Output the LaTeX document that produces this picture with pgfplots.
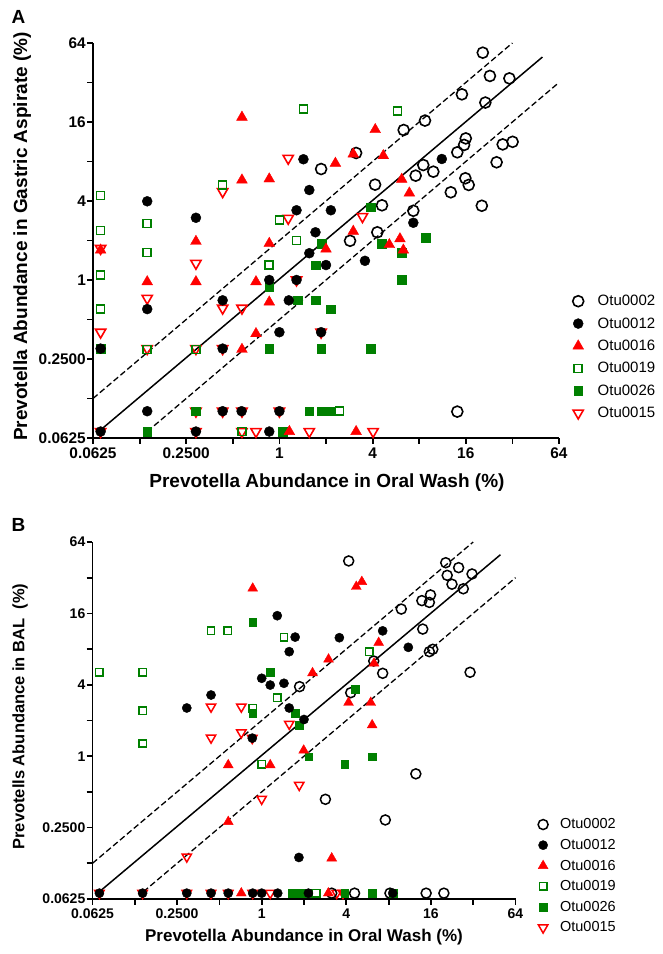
\documentclass[border=0pt]{standalone}
\usepackage{pgfplots}
\pgfplotsset{compat=1.18}
\usepackage{fontspec}
\setmainfont{Liberation Sans}
\definecolor{pgreen}{RGB}{0,128,0}
\definecolor{pred}{RGB}{255,0,0}

\pgfplotsset{
  every axis/.append style={
    scale only axis, xmode=log, ymode=log, log basis x=2, log basis y=2,
    xmin=0.0625, xmax=64, ymin=0.0625, ymax=64,
    axis x line*=bottom, axis y line*=left,
    axis line style={-, line width=1.8pt},
    tick align=outside, major tick length=6pt,
    every tick/.style={black, line width=1.8pt},
    xtick={0.0625,0.125,0.25,0.5,1,2,4,8,16,32,64},
    ytick={0.0625,0.125,0.25,0.5,1,2,4,8,16,32,64},
    xticklabels={0.0625,,0.2500,,1,,4,,16,,64},
    yticklabels={0.0625,,0.2500,,1,,4,,16,,64},
    clip=false,
    legend cell align=left,
  },
  refline/.style={black, line width=1.5pt, forget plot},
  refdash/.style={black, line width=1.3pt, dash pattern=on 6pt off 3pt, forget plot},
  sA02/.style={only marks, mark=o, mark size=5.5pt, mark options={line width=1.6pt, draw=black, fill=none}},
  sA12/.style={only marks, mark=*, mark size=5pt, mark options={draw=black, fill=black}},
  sA16/.style={only marks, mark=triangle*, mark size=6.2pt, mark options={draw=pred, fill=pred}},
  sA19/.style={only marks, mark=square, mark size=4pt, mark options={line width=1.6pt, draw=pgreen}},
  sA26/.style={only marks, mark=square*, mark size=4.3pt, mark options={draw=pgreen, fill=pgreen}},
  sA15/.style={only marks, mark=triangle, mark size=5.9pt, mark options={rotate=180, line width=1.6pt, draw=pred}},
  sB02/.style={only marks, mark=o, mark size=5pt, mark options={line width=1.5pt, draw=black, fill=none}},
  sB12/.style={only marks, mark=*, mark size=4.6pt, mark options={draw=black, fill=black}},
  sB16/.style={only marks, mark=triangle*, mark size=5.7pt, mark options={draw=pred, fill=pred}},
  sB19/.style={only marks, mark=square, mark size=3.7pt, mark options={line width=1.5pt, draw=pgreen}},
  sB26/.style={only marks, mark=square*, mark size=3.9pt, mark options={draw=pgreen, fill=pgreen}},
  sB15/.style={only marks, mark=triangle, mark size=5.4pt, mark options={rotate=180, line width=1.5pt, draw=pred}},
}

\begin{document}
\begin{tikzpicture}
\path[use as bounding box] (0pt,0pt) rectangle (663pt,954pt);
\node[font=\bfseries\fontsize{19}{22}\selectfont] at (18.5pt,937pt) {A};
\node[font=\bfseries\fontsize{19}{22}\selectfont] at (18.5pt,429pt) {B};

% ---------------- Panel A ----------------
\begin{axis}[
  at={(93pt,516pt)}, anchor=south west, width=466pt, height=395pt,
  xticklabel style={font=\bfseries\fontsize{15.4}{18}\selectfont},
  yticklabel style={font=\bfseries\fontsize{15.4}{18}\selectfont, inner xsep=1pt},
  xlabel={Prevotella Abundance in Oral Wash (\%)},
  ylabel={Prevotella Abundance in Gastric Aspirate (\%)},
  xlabel style={font=\bfseries\fontsize{19}{22}\selectfont, at={(axis description cs:0.502,-0.114)}, anchor=center},
  ylabel style={font=\bfseries\fontsize{19}{22}\selectfont, at={(axis description cs:-0.152,0.51)}, anchor=center},
  legend style={at={(axis description cs:1.029,0.367)}, anchor=north west, draw=none, fill=none,
    font=\fontsize{15}{18}\selectfont, inner sep=0pt, row sep=6.4pt,
    /tikz/every odd column/.append style={column sep=12pt}},
]
\addplot[refdash] coordinates {(0.0625,0.125) (32,64)};
\addplot[refline] coordinates {(0.07,0.072) (50,50)};
\addplot[refdash] coordinates {(0.14,0.07) (64,32)};

% Otu0015
\addplot[sA15, forget plot] coordinates {(1.14,8.46) (0.43,4.71) (1.14,2.95) (3.44,3.04) (0.07,1.74) (0.289,1.34) (0.14,0.725) (0.07,0.40) (0.43,0.61) (0.573,0.61) (0.14,0.30) (0.289,0.30) (0.43,0.30) (1.29,1.0) (1.86,0.40) (0.289,0.10) (0.43,0.10) (0.573,0.10) (1.0,0.10) (0.07,0.07) (0.289,0.07) (0.573,0.07) (0.706,0.07) (1.56,0.07) (4.03,0.07)};
% Otu0002
\addplot[sA02, forget plot] coordinates {(20.6,54.0) (22.9,35.9) (30.6,34.4) (15.1,26.0) (21.4,22.5) (8.72,16.4) (6.35,13.9) (16.0,12.0) (15.6,10.7) (14.1,9.40) (27.7,10.8) (32.1,11.3) (3.13,9.29) (8.50,7.52) (9.87,6.69) (7.59,6.24) (1.86,7.01) (4.15,5.33) (15.9,5.96) (16.7,5.30) (12.8,4.66) (25.3,7.89) (20.3,3.68) (4.60,3.71) (7.33,3.37) (4.29,2.31) (2.86,1.99) (14.1,0.0993)};
% Otu0026
\addplot[sA26, forget plot] coordinates {(1.88,1.90) (3.88,3.60) (4.60,1.90) (8.85,2.11) (0.86,0.89) (1.72,1.30) (1.31,0.70) (1.72,0.70) (2.14,0.60) (0.07,0.30) (0.86,0.30) (1.86,0.30) (3.88,0.30) (0.289,0.10) (1.56,0.10) (1.86,0.10) (2.12,0.10) (0.14,0.07) (1.05,0.07) (6.17,1.61) (6.17,1.0)};
% Otu0019
\addplot[sA19, forget plot] coordinates {(0.07,4.39) (0.07,2.38) (0.14,2.70) (0.43,5.30) (1.43,20.0) (1.0,2.88) (1.29,2.0) (5.81,19.4) (0.14,1.62) (0.07,1.09) (0.07,0.60) (0.86,1.30) (0.14,0.296) (0.289,0.296) (0.573,0.07) (2.44,0.10)};
% Otu0016
\addplot[sA16, forget plot] coordinates {(0.573,17.4) (0.573,5.78) (0.86,5.89) (2.30,7.75) (3.0,9.13) (4.16,14.0) (0.289,1.97) (0.86,1.90) (3.0,2.35) (2.0,1.72) (4.69,8.86) (6.17,5.85) (6.91,4.60) (5.13,1.86) (6.01,2.06) (6.32,1.69) (0.07,1.69) (0.14,0.97) (0.289,0.97) (0.706,0.97) (0.86,0.68) (0.706,0.39) (0.573,0.296) (1.16,0.07) (3.13,0.07)};
% Otu0012
\addplot[sA12, forget plot] coordinates {(0.140,3.98) (0.289,2.98) (1.43,8.32) (1.56,4.85) (1.29,3.40) (2.15,3.40) (1.71,2.31) (11.2,8.36) (7.33,2.73) (1.56,1.60) (2.0,1.30) (3.57,1.40) (0.86,1.0) (1.29,1.0) (0.43,0.70) (0.140,0.60) (1.15,0.70) (1.0,0.40) (1.86,0.40) (0.07,0.30) (0.43,0.30) (0.14,0.10) (0.43,0.10) (0.57,0.10) (1.0,0.10) (0.07,0.07) (0.289,0.07) (0.86,0.07)};

\addlegendimage{sA02}\addlegendentry{Otu0002}
\addlegendimage{sA12}\addlegendentry{Otu0012}
\addlegendimage{sA16}\addlegendentry{Otu0016}
\addlegendimage{sA19}\addlegendentry{Otu0019}
\addlegendimage{sA26}\addlegendentry{Otu0026}
\addlegendimage{sA15}\addlegendentry{Otu0015}
\end{axis}

% ---------------- Panel B ----------------
\begin{axis}[
  at={(92.5pt,55pt)}, anchor=south west, width=423pt, height=357pt,
  xticklabel style={font=\bfseries\fontsize{14}{16}\selectfont},
  yticklabel style={font=\bfseries\fontsize{14}{16}\selectfont, inner xsep=1pt},
  xlabel={Prevotella Abundance in Oral Wash (\%)},
  ylabel={Prevotells Abundance in BAL\ \ (\%)},
  xlabel style={font=\bfseries\fontsize{17}{20}\selectfont, at={(axis description cs:0.5,-0.106)}, anchor=center},
  ylabel style={font=\bfseries\fontsize{16.5}{20}\selectfont, at={(axis description cs:-0.171,0.511)}, anchor=center},
  legend style={at={(axis description cs:1.053,0.231)}, anchor=north west, draw=none, fill=none,
    font=\fontsize{14.5}{17}\selectfont, inner sep=0pt, row sep=5pt,
    /tikz/every odd column/.append style={column sep=10pt}},
]
\addplot[refdash] coordinates {(0.0625,0.125) (32,64)};
\addplot[refline] coordinates {(0.07,0.072) (50,50)};
\addplot[refdash] coordinates {(0.144,0.072) (64,32)};

% Otu0015
\addplot[sB15, forget plot] coordinates {(0.436,2.61) (0.716,2.61) (0.436,1.43) (0.716,1.58) (1.57,1.87) (1.85,0.571) (1.0,0.436) (0.293,0.142) (0.857,1.42) (0.07,0.07) (0.142,0.07) (0.293,0.07) (0.436,0.07) (0.578,0.07) (0.863,0.07) (1.15,0.07) (3.42,0.07) (3.79,0.07)};
% Otu0002
\addplot[sB02, forget plot] coordinates {(4.16,44.3) (20.4,42.8) (25.2,38.9) (31.4,34.4) (20.9,33.5) (22.6,28.2) (27.2,25.8) (15.9,22.9) (13.8,20.5) (15.6,19.8) (9.85,17.4) (14.0,11.8) (16.5,7.97) (15.6,7.61) (6.27,6.35) (7.26,5.0) (30.4,5.10) (4.30,3.43) (1.86,3.86) (2.84,0.433) (12.5,0.71) (7.58,0.29) (3.15,0.07) (4.58,0.07) (14.8,0.07) (19.8,0.07) (8.18,0.07)};
% Otu0026
\addplot[sB26, forget plot] coordinates {(0.863,13.4) (1.15,5.10) (4.61,3.67) (1.73,2.30) (0.863,2.30) (1.85,1.83) (2.16,0.99) (3.90,0.86) (6.11,0.99) (1.64,0.07) (1.87,0.07) (2.14,0.07) (3.90,0.07) (6.11,0.07) (8.64,0.07)};
% Otu0019
\addplot[sB19, forget plot] coordinates {(0.07,5.10) (0.142,5.10) (0.142,2.42) (0.436,11.4) (0.573,11.4) (1.44,10.1) (1.29,3.11) (0.863,2.54) (5.83,7.61) (0.142,1.28) (1.0,0.855) (2.45,0.07)};
% Otu0016
\addplot[sB16, forget plot] coordinates {(0.863,26.0) (4.71,26.9) (5.16,29.6) (2.99,6.56) (2.30,5.03) (4.15,2.83) (5.97,2.83) (6.80,9.06) (6.30,6.07) (0.578,0.843) (1.15,0.843) (1.99,1.12) (6.11,1.83) (0.578,0.28) (3.15,0.138) (0.716,0.07) (2.98,0.07)};
% Otu0012
\addplot[sB12, forget plot] coordinates {(1.29,15.3) (1.73,10.1) (1.57,7.61) (1.0,4.54) (1.15,3.98) (1.44,4.12) (0.436,3.28) (0.293,2.55) (1.57,2.55) (3.57,9.98) (2.0,2.04) (7.26,11.4) (11.05,8.28) (0.857,1.42) (1.84,0.14) (0.07,0.07) (0.142,0.07) (0.293,0.07) (0.436,0.07) (0.578,0.07) (0.863,0.07) (1.0,0.07) (1.30,0.07) (2.15,0.07) (8.56,0.07)};

\addlegendimage{sB02}\addlegendentry{Otu0002}
\addlegendimage{sB12}\addlegendentry{Otu0012}
\addlegendimage{sB16}\addlegendentry{Otu0016}
\addlegendimage{sB19}\addlegendentry{Otu0019}
\addlegendimage{sB26}\addlegendentry{Otu0026}
\addlegendimage{sB15}\addlegendentry{Otu0015}
\end{axis}
\end{tikzpicture}
\end{document}
